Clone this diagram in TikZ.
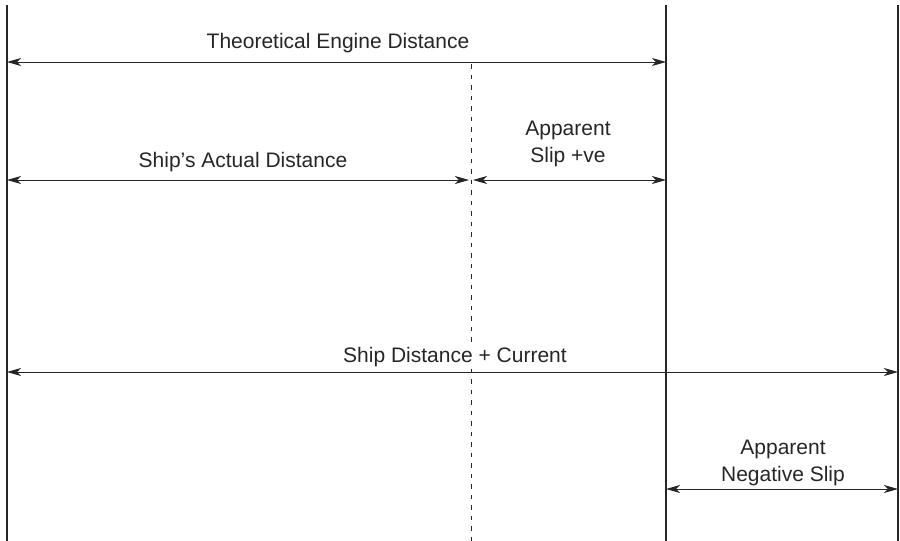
\documentclass[tikz,border=0pt]{standalone}
\usepackage{fontspec}
\setmainfont{Liberation Sans}
\usetikzlibrary{arrows.meta,positioning}
\begin{document}
\begin{tikzpicture}[x=1pt,y=-1pt,
    rule/.style={draw=black!85, line width=1.2pt},
    dimline/.style={draw=black!85, line width=1pt,
      {Stealth[length=14pt,width=8pt,inset=4pt]}-{Stealth[length=14pt,width=8pt,inset=4pt]}},
    label/.style={font=\fontsize{21}{27}\selectfont, text=black!85, align=center, inner sep=1pt}]
  \useasboundingbox (0,0) rectangle (900,541);

  % Vertical reference lines
  \coordinate (LeftTop) at (7,5);    \coordinate (LeftBot) at (7,541);
  \coordinate (MidTop) at (666,5);   \coordinate (MidBot) at (666,541);
  \coordinate (RightTop) at (898,5); \coordinate (RightBot) at (898,541);
  \coordinate (DashTop) at (471,64); \coordinate (DashBot) at (471,541);

  \draw[rule] (LeftTop) -- (LeftBot);
  \draw[rule] (MidTop) -- (MidBot);
  \draw[rule] (RightTop) -- (RightBot);
  \draw[draw=black!85, line width=1pt, dash pattern=on 4.5pt off 6pt] (DashTop) -- (DashBot);

  % Arrow end points
  \coordinate (TheoL) at (7,62);   \coordinate (TheoR) at (666,62);
  \coordinate (ActL) at (7,180);   \coordinate (ActR) at (471,180);
  \coordinate (SlipL) at (471,180); \coordinate (SlipR) at (666,180);
  \coordinate (CurL) at (7,372);   \coordinate (CurR) at (898,372);
  \coordinate (NegL) at (666,489); \coordinate (NegR) at (898,489);

  \draw[dimline] (TheoL) -- (TheoR);
  \draw[dimline] (ActL) -- ([xshift=-2pt]ActR);
  \draw[dimline] ([xshift=2pt]SlipL) -- (SlipR);
  \draw[dimline] (CurL) -- (CurR);
  \draw[dimline] (NegL) -- (NegR);

  % Labels
  \node[label] (theo) at (338,43) {Theoretical Engine Distance};
  \node[label] (actual) at (243,162) {Ship’s Actual Distance};
  \node[label] (slip) at (568,144) {Apparent\\Slip +ve};
  \node[label, fill=white] (current) at (455,357) {Ship Distance + Current};
  \node[label] (negslip) at (783,463) {Apparent\\Negative Slip};
\end{tikzpicture}
\end{document}
